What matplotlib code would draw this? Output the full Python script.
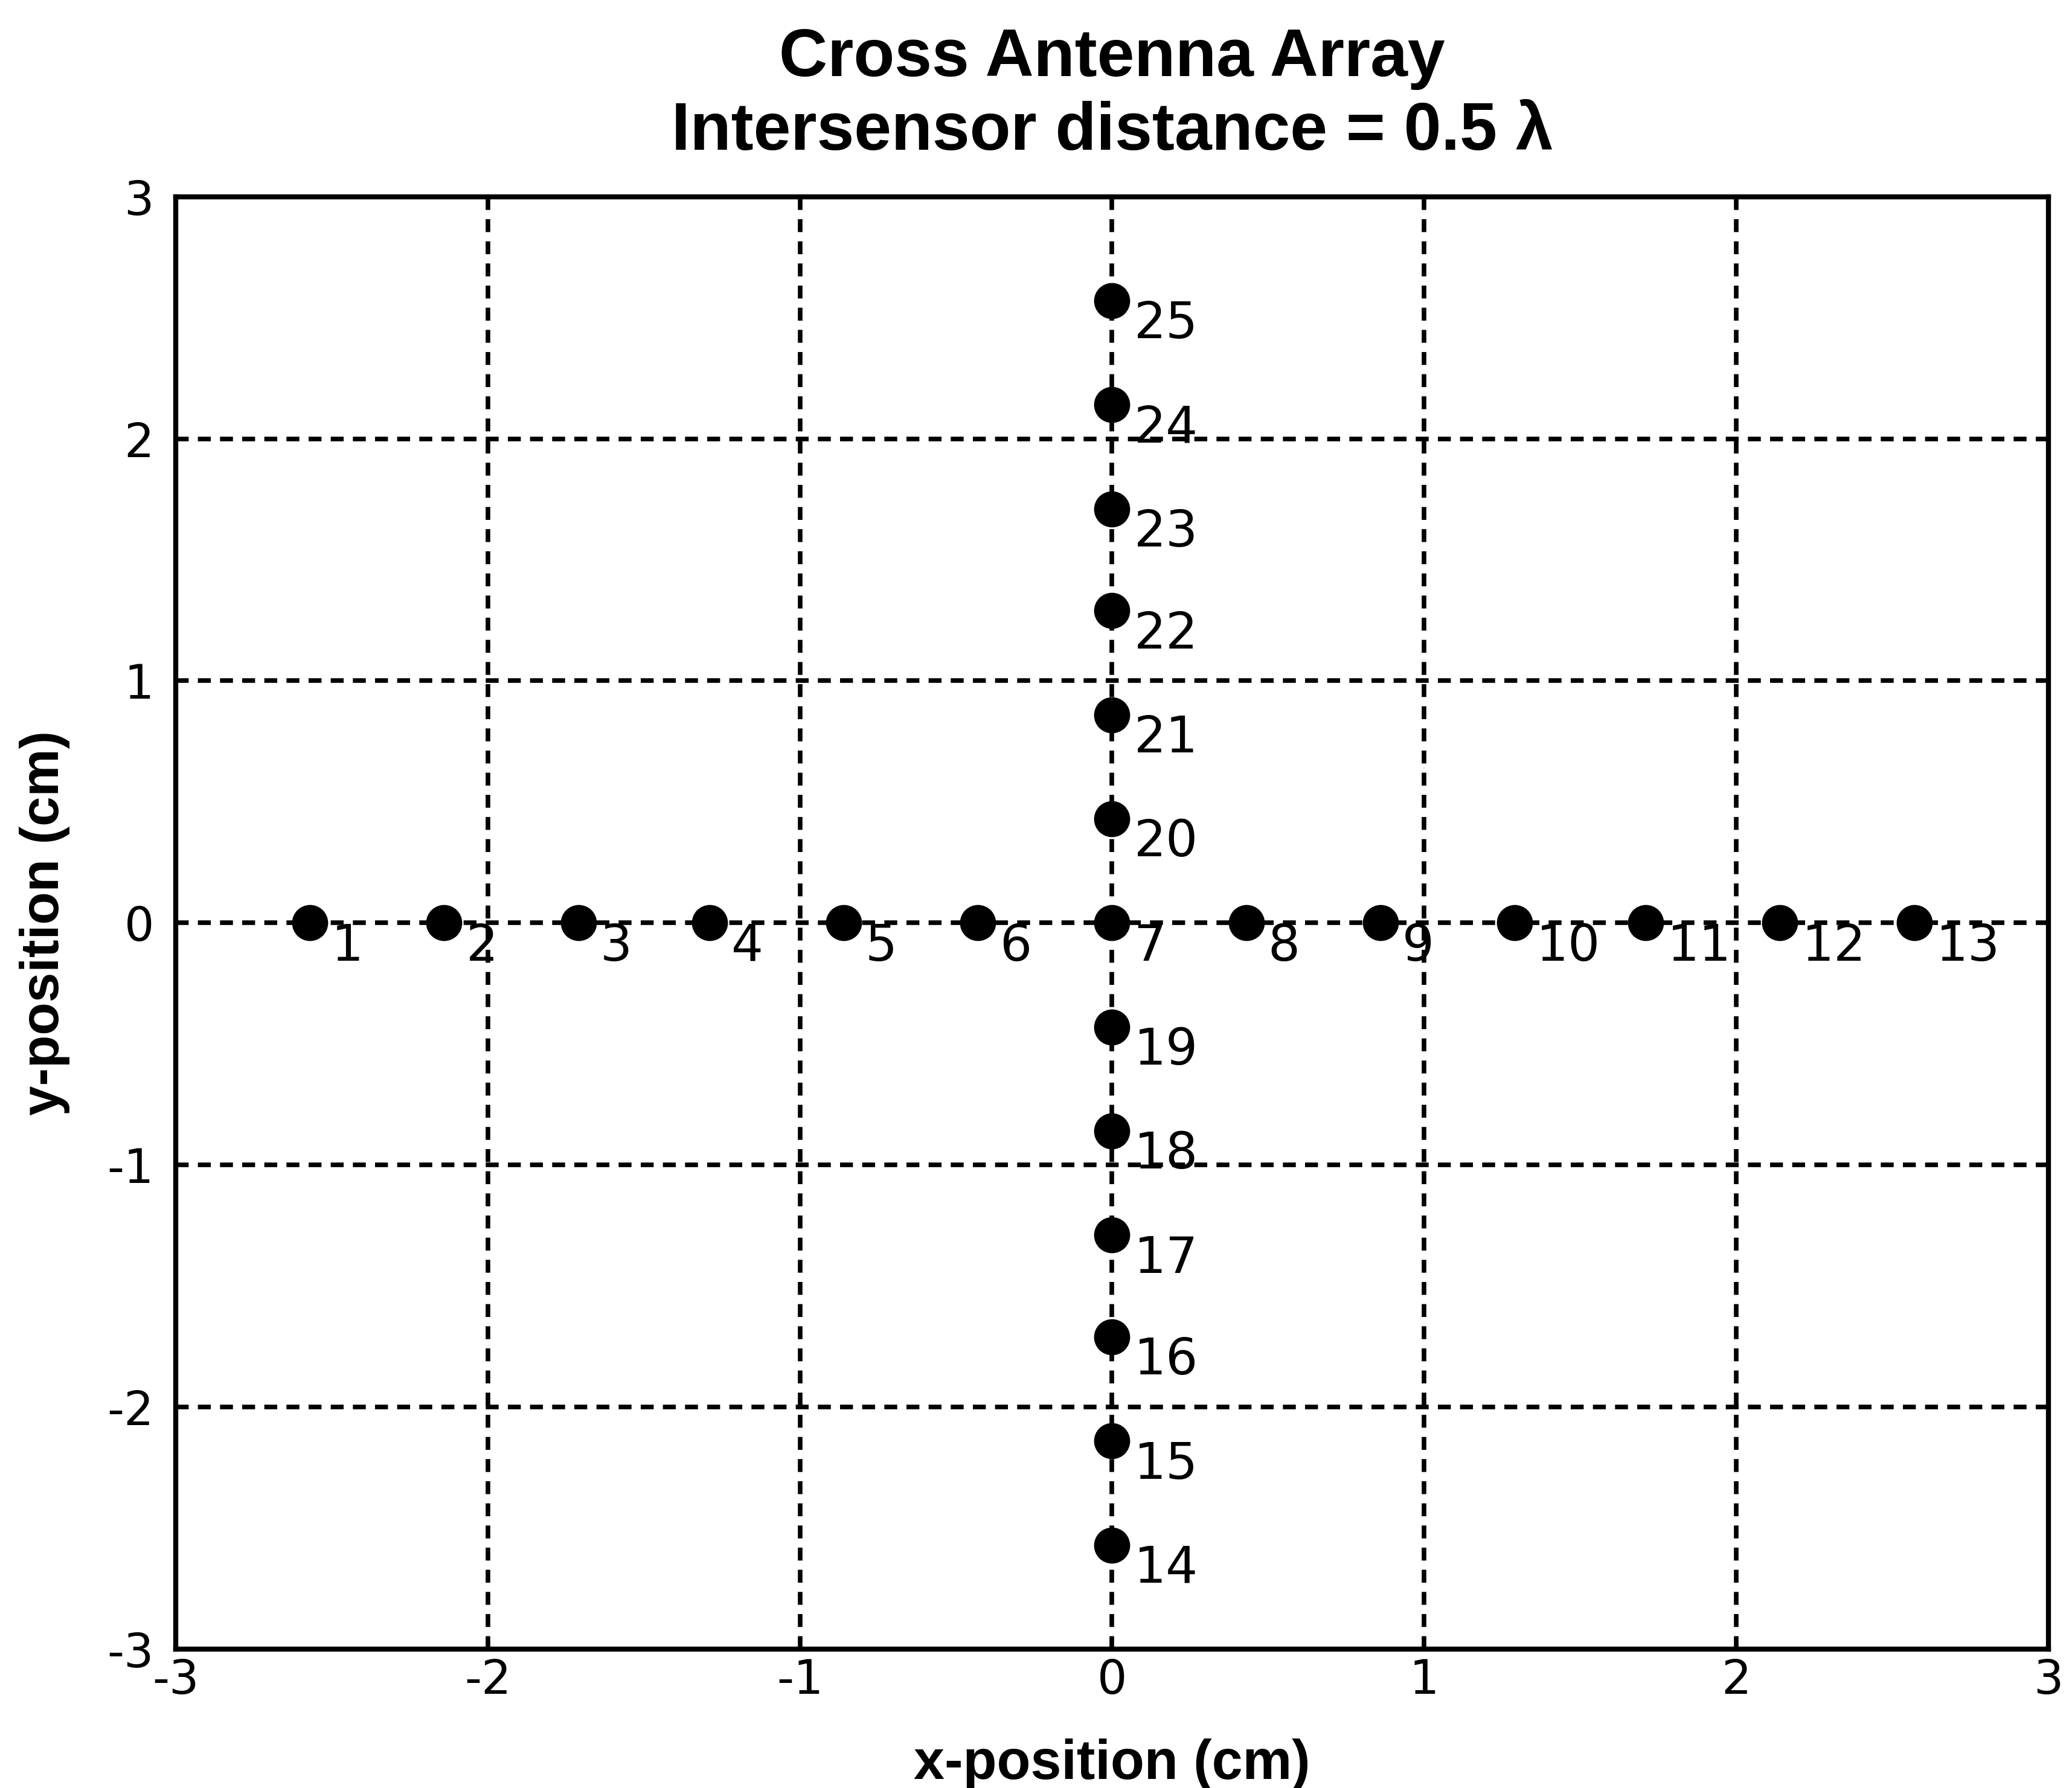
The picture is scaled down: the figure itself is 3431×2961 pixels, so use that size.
import numpy as np
import matplotlib.pyplot as plt

# Sensor positions of the cross array (cm), spacing = 0.5 lambda
x_arm = [-2.57, -2.14, -1.71, -1.29, -0.86, -0.43, 0.0, 0.43, 0.86, 1.29, 1.71, 2.14, 2.57]
y_down = [-2.57, -2.14, -1.71, -1.29, -0.86, -0.43]
y_up = [0.43, 0.86, 1.29, 1.71, 2.14, 2.57]

xs = x_arm + [0.0] * len(y_down) + [0.0] * len(y_up)
ys = [0.0] * len(x_arm) + y_down + y_up
labels = [str(i + 1) for i in range(len(xs))]

ticks = [-3, -2, -1, 0, 1, 2, 3]

fig = plt.figure(figsize=(34.31, 29.61), dpi=100)
ax = fig.add_axes([0.0848, 0.0777, 0.9038, 0.8123])

ax.plot(xs, ys, linestyle="none", marker="o", color="black", markersize=42, zorder=3)
for x, y, s in zip(xs, ys, labels):
    ax.annotate(s, (x, y), xytext=(26, -28), textcoords="offset points",
                ha="left", va="center", fontsize=60, family="DejaVu Sans")

ax.set_xlim(-3, 3)
ax.set_ylim(-3, 3)
ax.set_xticks(ticks)
ax.set_yticks(ticks)
ax.set_xticklabels([str(t) for t in ticks], fontsize=56)
ax.set_yticklabels([str(t) for t in ticks], fontsize=56)
ax.tick_params(direction="in", length=10, width=2, pad=10)
ax.tick_params(axis="y", pad=26)

ax.grid(True, color="black", linestyle=(0, (2.8, 2.0)), linewidth=5.5)
ax.set_axisbelow(True)
for sp in ax.spines.values():
    sp.set_linewidth(6)

ax.set_xlabel("x-position (cm)", fontsize=66, fontweight="bold",
              family="Liberation Sans", labelpad=42)
ax.set_ylabel("y-position (cm)", fontsize=64, fontweight="bold",
              family="Liberation Sans", labelpad=44)
ax.set_title("Cross Antenna Array\nIntersensor distance = 0.5 \u03bb",
             fontsize=80, fontweight="bold", family="Liberation Sans",
             linespacing=1.22, pad=56)

fig.savefig("out.png", dpi=100, facecolor="white")
plt.close(fig)
